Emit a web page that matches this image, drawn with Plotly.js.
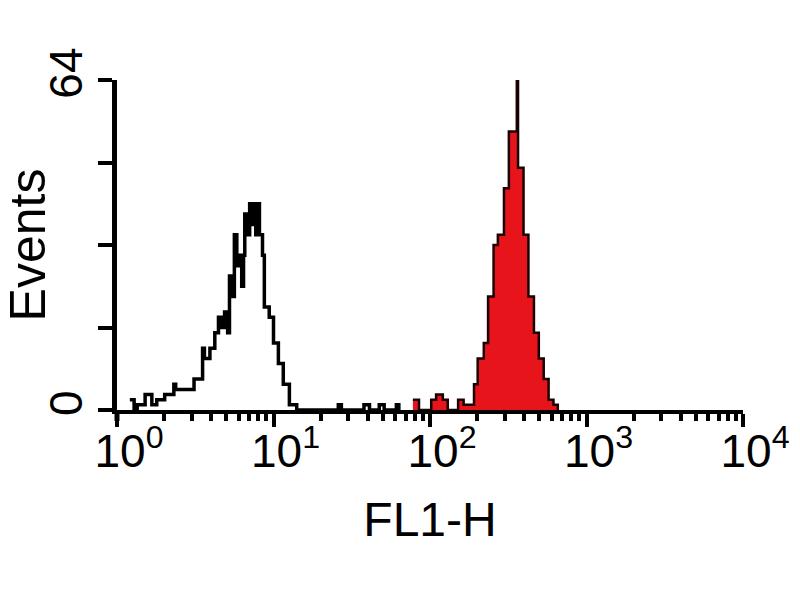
<!DOCTYPE html>
<html>
<head>
<meta charset="utf-8">
<script src="https://cdn.plot.ly/plotly-3.0.1.min.js"></script>
<style>html,body{margin:0;padding:0;background:#fff;}#chart{width:800px;height:600px;}</style>
</head>
<body>
<div id="chart"></div>
<script>
// FL1-H channel (1024 channels over 4 decades) and event counts
const controlChannels = [21,28,33,46,57,65,78,86,93,96,109,126,135,140,143,152,160,166,171,176,181,184,189,192,196,199,204,207,209,214,217,220,223,227,230,233,238,241,249,256,264,272,282,294,362,367,404,413,429,437,457,461];
const controlCounts   = [2,0,1,3,1,2,3,3,5,4,4,6,6,12,10,12,15,18,16,19,15,26,22,34,28,30,24,30,38,34,40,36,40,34,40,34,30,20,18,13,9,5,1,0,1,0,1,0,1,0,1,0];
const stainedChannels = [484,494,514,522,533,541,558,567,574,584,590,600,607,616,623,633,641,649,654,656,665,673,682,690,698,706,714,721];
const stainedCounts   = [2,0,2,3,2,0,2,1,1,5,10,13,22,32,34,43,54,54,64,47,34,22,15,10,6,2,1,0];

const xTickVals = [1,10,100,1000,10000];
const xTickText = ['10<sup>0</sup>','10<sup>1</sup>','10<sup>2</sup>','10<sup>3</sup>','10<sup>4</sup>'];
const yTickVals = [0,16,32,48,64];
const yTickText = ['0','','','','64'];

const toFL1 = ch => Math.pow(10, ch / 256);
const minorVals = [];
for (let d = 0; d < 4; d++) for (let m = 2; m <= 9; m++) minorVals.push(m * Math.pow(10, d));

const traces = [
  {
    x: stainedChannels.map(toFL1), y: stainedCounts,
    type: 'scatter', mode: 'lines',
    line: {shape: 'hv', color: '#1a0000', width: 2.5},
    fill: 'tozeroy', fillcolor: '#e8141c',
    hoverinfo: 'skip'
  },
  {
    x: controlChannels.map(toFL1), y: controlCounts,
    type: 'scatter', mode: 'lines',
    line: {shape: 'hv', color: '#000', width: 3.5},
    hoverinfo: 'skip'
  }
];

const layout = {
  width: 800, height: 600,
  margin: {l: 117, r: 57, t: 80, b: 190},
  paper_bgcolor: '#fff', plot_bgcolor: '#fff',
  showlegend: false,
  font: {family: 'Liberation Sans, Arial, sans-serif', color: '#000'},
  xaxis: {
    type: 'log', range: [0, 4],
    tickmode: 'array', tickvals: xTickVals, ticktext: xTickText,
    ticks: 'outside', ticklen: 13, tickwidth: 4, tickcolor: '#000',
    minor: {tickmode: 'array', tickvals: minorVals, ticks: 'outside', ticklen: 7, tickwidth: 4, tickcolor: '#000', showgrid: false},
    showline: true, linewidth: 4, linecolor: '#000',
    showgrid: false, zeroline: false,
    tickfont: {size: 46},
    ticklabelshift: 12,
    ticklabelstandoff: -15,
    title: {text: 'FL1-H', font: {size: 48}, standoff: 27}
  },
  yaxis: {
    range: [0, 64],
    tickmode: 'array', tickvals: yTickVals, ticktext: yTickText,
    tickangle: -90,
    ticks: 'outside', ticklen: 14, tickwidth: 4, tickcolor: '#000',
    showline: true, linewidth: 5, linecolor: '#000',
    showgrid: false, zeroline: false,
    tickfont: {size: 46},
    ticklabelstandoff: -2,
    title: {text: 'Events', font: {size: 50}, standoff: 12}
  },
  shapes: [
    {type: 'line', xref: 'paper', yref: 'paper', xsizemode: 'pixel', xanchor: 0, x0: -14, x1: 0, y0: 0, y1: 0, line: {color: '#000', width: 4}},
    {type: 'line', xref: 'paper', yref: 'paper', ysizemode: 'pixel', yanchor: 0, y0: -11, y1: 0, x0: 0, x1: 0, line: {color: '#000', width: 5}}
  ]
};

Plotly.newPlot('chart', traces, layout, {displayModeBar: false, staticPlot: true});
</script>
</body>
</html>
